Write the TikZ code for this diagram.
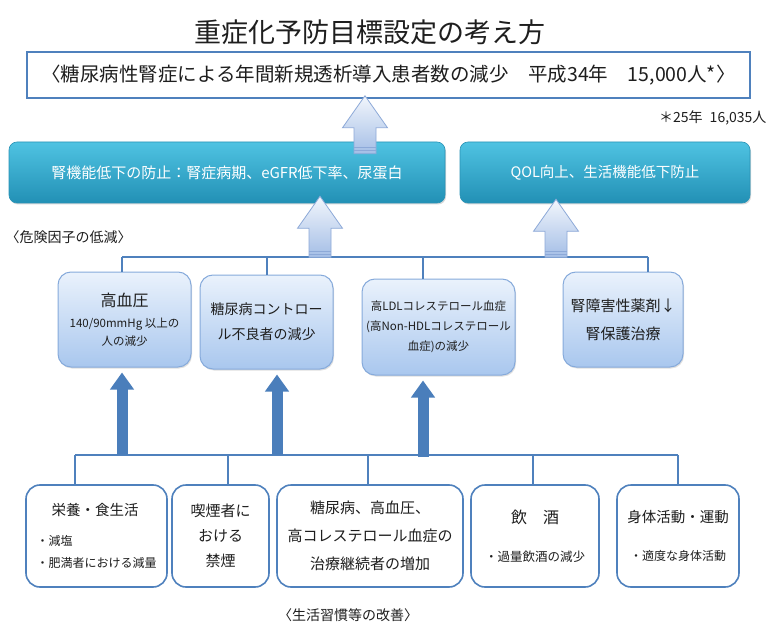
\documentclass[tikz,border=0pt]{standalone}
\usepackage{fontspec}
\setmainfont{Noto Sans CJK JP}
\usetikzlibrary{arrows.meta,shadows,calc}
\definecolor{lineblue}{HTML}{4F81BD}
\definecolor{arrowblue}{HTML}{4A7EBB}
\definecolor{tealtop}{HTML}{4FC3E2}
\definecolor{tealbot}{HTML}{2290B5}
\definecolor{tealedge}{HTML}{2A93B6}
\definecolor{risktop}{HTML}{EAF2FC}
\definecolor{riskbot}{HTML}{A9C7EE}
\definecolor{riskedge}{HTML}{86AADB}
\definecolor{hollowtop}{HTML}{F2F6FC}
\definecolor{hollowbot}{HTML}{A4BEE6}
\definecolor{hollowedge}{HTML}{8DA9D8}
\definecolor{inkgray}{HTML}{1E1E1E}
\newcommand{\jpsize}[2]{\fontsize{#1}{#2}\selectfont}
\begin{document}
\begin{tikzpicture}[x=1pt,y=-1pt,
	every node/.style={text=inkgray},
	goalbox/.style={draw=lineblue,line width=1.5pt,fill=white,minimum width=723pt,minimum height=46pt,inner sep=0pt},
	tealbox/.style={rounded corners=8pt,top color=tealtop,bottom color=tealbot,draw=tealedge,line width=0.6pt,minimum height=61pt,text=white,drop shadow={opacity=.3,shadow xshift=1pt,shadow yshift=-1.5pt}},
	riskbox/.style={rounded corners=13pt,top color=risktop,bottom color=riskbot,draw=riskedge,line width=1pt,align=center,inner sep=2pt,drop shadow={opacity=.25,shadow xshift=1pt,shadow yshift=-1.5pt}},
	lifebox/.style={rounded corners=14pt,draw=lineblue,line width=1.6pt,fill=white,minimum height=102pt,inner sep=2pt},
	barline/.style={draw=lineblue,line width=1.6pt},
	solidarrow/.style={draw=arrowblue,line width=11pt,-{Triangle[width=23pt,length=17pt]},shorten >=5pt},
	hollowarrow/.style={top color=hollowtop,bottom color=hollowbot,draw=hollowedge,line width=0.8pt}]
	\fill[white] (0,0) rectangle (773,628);
	\useasboundingbox (0,0) rectangle (773,628);

	%title and goal
	\node[font={\jpsize{27}{30}}] (title) at (370,32) {重症化予防目標設定の考え方};
	\node[goalbox,font={\jpsize{19.5}{22}}] (goal) at (388.5,75) {〈糖尿病性腎症による年間新規透析導入患者数の減少　平成34年　15,000人*〉};
	\node[anchor=east,font={\jpsize{14}{16}}] (note) at (770,118) {＊25年\hspace{7pt}16,035人};

	%outcome nodes
	\node[tealbox,minimum width=436pt,font={\jpsize{15}{18}}] (kidney) at (227,172.5) {腎機能低下の防止：腎症病期、eGFR低下率、尿蛋白};
	\node[tealbox,minimum width=290pt,font={\jpsize{14.5}{18}}] (qol) at (605,172.5) {QOL向上、生活機能低下防止};
	\node[anchor=west,font={\jpsize{14}{16}}] (risk) at (2,237) {〈危険因子の低減〉};

	%risk nodes
	\node[riskbox,minimum width=133pt,minimum height=95pt,font={\jpsize{11.5}{18}}] (rA) at (124.5,319.5) {\jpsize{16}{20}高血圧\\[3pt]140/90mmHg 以上の\\人の減少};
	\node[riskbox,minimum width=133pt,minimum height=94pt,font={\jpsize{14}{25}}] (rB) at (266.5,322) {糖尿病コントロー\\ル不良者の減少};
	\node[riskbox,minimum width=153pt,minimum height=96pt,font={\jpsize{11.5}{20}}] (rC) at (438.5,327) {高LDLコレステロール血症\\(高Non-HDLコレステロール\\血症)の減少};
	\node[riskbox,minimum width=120pt,minimum height=95pt,font={\jpsize{15}{28}}] (rD) at (623,319.5) {腎障害性薬剤↓\\腎保護治療};

	%lifestyle nodes
	\node[lifebox,minimum width=141pt,align=left,font={\jpsize{12}{22}}] (lE) at (96.5,536) {\hspace*{15pt}\jpsize{14.5}{20}栄養・食生活\\[8pt]・減塩\\・肥満者における減量};
	\node[lifebox,minimum width=97pt,align=center,font={\jpsize{15}{25}}] (lF) at (220.5,536) {喫煙者に\\おける\\禁煙};
	\node[lifebox,minimum width=186pt,align=center,font={\jpsize{15}{28}}] (lG) at (370,536) {糖尿病、高血圧、\\高コレステロール血症の\\治療継続者の増加};
	\node[lifebox,minimum width=128pt,align=center,font={\jpsize{12.5}{18}}] (lH) at (535,536) {\jpsize{16}{20}飲　酒\\[20pt]・過量飲酒の減少};
	\node[lifebox,minimum width=122pt,align=center,font={\jpsize{12}{18}}] (lI) at (678,536) {\jpsize{14.5}{20}身体活動・運動\\[20pt]・適度な身体活動};
	\node[font={\jpsize{14}{16}}] (life) at (348,615) {〈生活習慣等の改善〉};

	%bar points
	\coordinate (d1) at (122,257);
	\coordinate (d2) at (267,257);
	\coordinate (d3) at (423,257);
	\coordinate (d4) at (648,257);
	\coordinate (b1) at (75,455);
	\coordinate (b2) at (228,455);
	\coordinate (b3) at (368,455);
	\coordinate (b4) at (533,455);
	\coordinate (b5) at (678,455);
	\coordinate (s1) at (122,455);
	\coordinate (s2) at (277,455);
	\coordinate (s3) at (423,457);

	%edges
	\draw[barline] (d1) -- (d4);
	\foreach \d/\b in {d1/rA,d2/rB,d3/rC,d4/rD}
		\draw[barline] (\d) -- (\d |- \b.north);
	\draw[barline] (b1) -- (b5);
	\foreach \d/\b in {b1/lE,b2/lF,b3/lG,b4/lH,b5/lI}
		\draw[barline] (\d) -- (\d |- \b.north);
	\foreach \s/\b in {s1/rA,s2/rB,s3/rC}
		\draw[solidarrow] (\s) -- (\s |- \b.south);

	%hollow arrows
	\foreach \ux/\uto/\udip/\ulen in {365/goal/3/58,320/kidney/7/61,556/qol/4/58}{
		\coordinate (ux) at (\ux,0);
		\begin{scope}[shift={($(ux |- \uto.south)+(0,-\udip)$)}]
			\path[hollowarrow] (0,0) -- (22.5,32) -- (11,32) -- (11,\ulen) -- (-11,\ulen) -- (-11,32) -- (-22.5,32) -- cycle;
			\draw[hollowedge,line width=0.8pt] (-11,\ulen-3) -- (11,\ulen-3) (-11,\ulen-6) -- (11,\ulen-6);
		\end{scope}
	}
\end{tikzpicture}
\end{document}
